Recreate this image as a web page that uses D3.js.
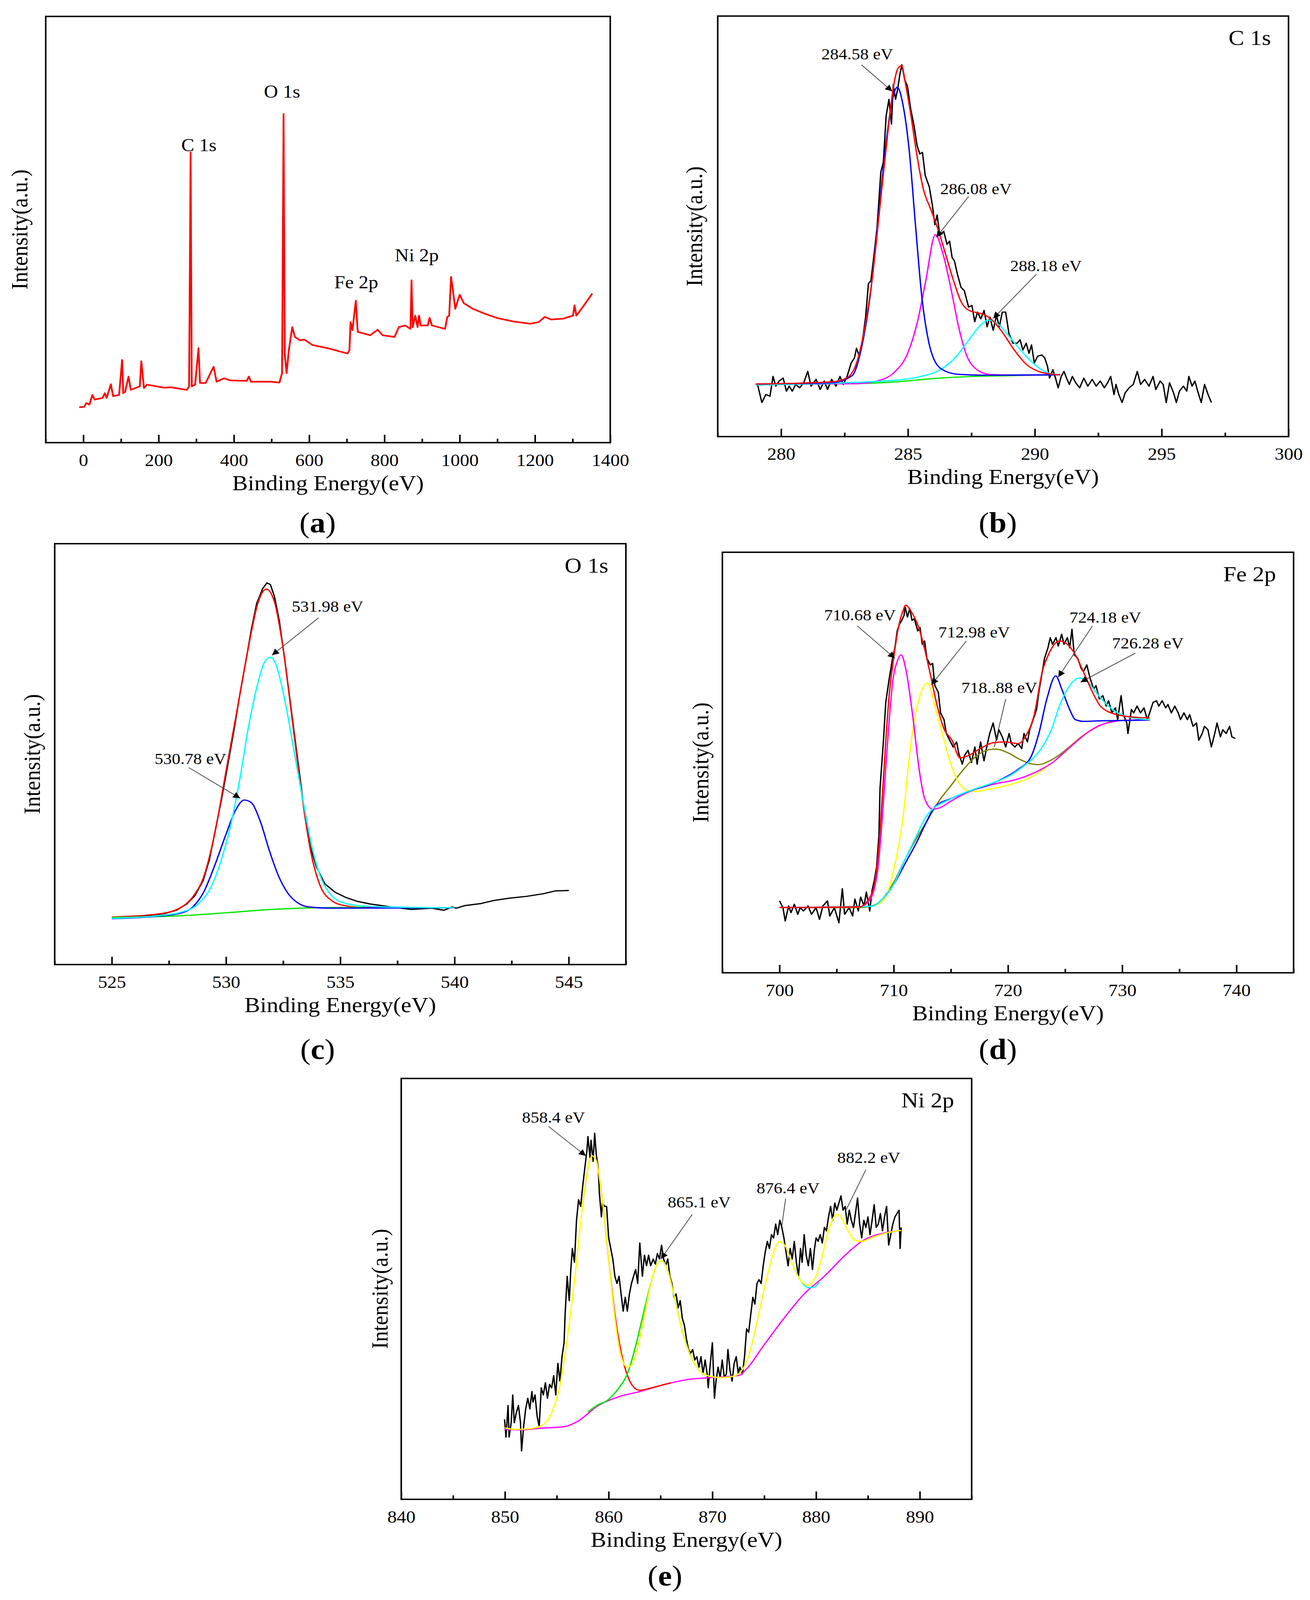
<!DOCTYPE html>
<html>
<head>
<meta charset="utf-8">
<script src="https://cdn.jsdelivr.net/npm/d3@7"></script>
<style>
html,body{margin:0;padding:0;background:#fff;overflow:hidden}
svg{display:block}
text{font-family:"Liberation Serif","Times New Roman",serif}
</style>
</head>
<body>
<div id="chart"></div>
<script>
// ---------- data: [binding energy (eV), intensity (% of frame height)] ----------

// (a) survey
var surveyLine = [[-11,8.3],[2,8.4],[8,9.3],[16,8.9],[24,11.2],[30,10.1],[51,10.5],[57,11.6],[62,10.5],[73,13.7],[79,10.9],[95,11.2],[103,19.4],[106,11.6],[111,11.9],[120,15.5],[126,12.4],[150,13.2],[154,19.1],[161,12.8],[169,13.6],[215,12.9],[232,13.0],[275,12.4],[281,13.2],[285,68.1],[288,13.2],[297,13.6],[306,22.2],[310,14.0],[325,14.0],[346,17.8],[354,14.3],[374,15.1],[390,14.6],[434,14.5],[440,15.5],[445,14.3],[499,14.3],[521,14.1],[528,16.3],[532,77.1],[535,20.9],[540,16.3],[546,21.7],[555,27.1],[562,24.8],[576,24.0],[587,24.2],[609,22.9],[652,22.1],[702,20.9],[707,21.7],[710,28.3],[715,26.4],[724,33.3],[729,26.0],[762,25.2],[782,26.5],[795,25.2],[827,24.8],[838,27.1],[855,27.5],[869,26.7],[872,38.1],[875,27.1],[882,29.8],[888,27.1],[892,29.8],[896,27.5],[915,27.5],[920,29.3],[926,27.5],[961,26.7],[967,29.5],[972,29.8],[977,38.9],[982,35.7],[988,31.4],[1000,34.7],[1011,32.7],[1035,31.4],[1068,30.2],[1101,29.2],[1144,28.4],[1188,27.9],[1210,28.3],[1226,29.5],[1243,28.9],[1275,29.1],[1301,29.8],[1305,32.2],[1310,29.8],[1330,32.2],[1350,34.7],[1352,35.0]];
var surveyPeaks = [["C 1s",307,68.4],["O 1s",528,80.9],["Fe 2p",725,36.2],["Ni 2p",886,42.5]];
var surveyTicks = [0,200,400,600,800,1000,1200,1400];
var surveyMinor = [-100,100,300,500,700,900,1100,1300];

// (b) C 1s
var c1sRaw = [[279.07,12.4],[279.24,8.1],[279.4,10.0],[279.56,9.6],[279.68,14.3],[279.79,12.0],[279.92,13.2],[280.08,13.9],[280.21,10.8],[280.32,12.0],[280.44,10.8],[280.57,12.4],[280.73,11.6],[280.89,12.8],[281.05,15.5],[281.18,12.0],[281.38,13.6],[281.54,11.2],[281.7,13.2],[281.83,11.2],[281.99,13.6],[282.16,12.0],[282.32,14.3],[282.45,12.4],[282.6,14.3],[282.76,17.5],[282.89,18.7],[282.97,21.0],[283.08,19.1],[283.21,23.0],[283.33,28.4],[283.44,36.3],[283.54,37.1],[283.65,42.6],[283.78,49.6],[283.93,62.9],[284.03,65.3],[284.14,76.3],[284.25,80.2],[284.35,74.3],[284.42,83.7],[284.51,80.2],[284.59,82.5],[284.68,86.1],[284.76,88.4],[284.87,84.9],[284.98,83.3],[285.11,77.8],[285.24,73.9],[285.36,69.2],[285.47,67.2],[285.57,67.6],[285.68,62.1],[285.84,59.4],[285.96,55.1],[286.06,50.4],[286.15,52.7],[286.25,48.0],[286.41,48.8],[286.54,45.7],[286.64,46.5],[286.74,42.6],[286.83,41.8],[286.95,38.6],[287.09,35.5],[287.22,34.7],[287.39,30.8],[287.52,31.2],[287.63,27.3],[287.74,29.6],[287.87,28.0],[288.0,30.0],[288.12,26.1],[288.23,28.4],[288.36,25.3],[288.49,28.8],[288.6,26.1],[288.72,29.6],[288.85,29.6],[288.98,24.5],[289.14,22.2],[289.3,22.2],[289.42,23.0],[289.53,20.6],[289.66,22.2],[289.77,19.8],[289.87,21.8],[289.98,17.5],[290.11,19.1],[290.28,19.4],[290.39,18.7],[290.5,16.7],[290.58,13.9],[290.71,15.9],[290.83,13.6],[290.92,11.6],[291.04,14.3],[291.15,15.5],[291.25,13.9],[291.36,12.4],[291.48,14.3],[291.61,12.8],[291.77,11.6],[291.93,13.9],[292.09,12.0],[292.26,13.6],[292.42,12.0],[292.58,13.2],[292.74,11.6],[292.87,12.8],[292.99,14.3],[293.12,10.0],[293.2,12.4],[293.31,10.0],[293.44,8.1],[293.56,10.4],[293.72,11.6],[293.88,12.4],[294.04,15.5],[294.17,12.4],[294.33,13.6],[294.5,12.0],[294.66,14.3],[294.77,11.2],[294.94,13.2],[295.06,12.4],[295.18,8.1],[295.31,12.8],[295.47,10.4],[295.58,8.1],[295.7,10.8],[295.86,12.0],[295.99,10.8],[296.07,14.3],[296.2,12.0],[296.31,13.2],[296.44,10.4],[296.56,8.1],[296.69,12.4],[296.83,10.0],[296.96,8.1]];
var c1sBase = [[279,12.4],[283,12.6],[284.5,13.0],[286,13.8],[287.5,14.3],[289,14.5],[291,14.7]];
var c1sPeakA = [[279,12.5],[282,12.8],[282.8,14.5],[283.2,22],[283.5,33],[283.8,50],[284.1,68],[284.35,79],[284.58,83.1],[284.8,79],[285.05,68],[285.3,50],[285.55,33],[285.8,23],[286.1,17.5],[286.5,15.5],[287,14.8],[288,14.6],[291,14.7]];
var c1sPeakB = [[279,12.4],[283,12.6],[284,13.6],[284.5,15.5],[285,20],[285.4,28],[285.7,37],[286.08,48],[286.4,43],[286.7,35],[287,26],[287.3,19.5],[287.7,16],[288.2,14.8],[289,14.6],[291,14.7]];
var c1sPeakC = [[279,12.3],[284,13.2],[285.5,14.3],[286.3,16],[286.9,19],[287.4,23],[287.9,26.7],[288.18,27.7],[288.6,26.5],[289.1,23],[289.6,19.5],[290.1,16.6],[290.6,15],[291,14.7]];
var c1sSum = [[279,12.5],[282,13.0],[282.6,14],[283,18],[283.3,26],[283.6,38],[283.9,55],[284.2,72],[284.45,84],[284.6,87.5],[284.75,88.2],[284.9,84],[285.1,77],[285.35,67],[285.6,59],[285.9,54],[286.2,49],[286.5,43],[286.8,37],[287.1,32],[287.4,30],[287.7,29.5],[288.0,29],[288.3,27.8],[288.7,25],[289.2,20.5],[289.7,17],[290.2,15.4],[290.6,14.9],[291,14.7]];
var c1sNotes = [["284.58 eV",283.0,89.7,283.17,88.4,284.38,82.1,true],["286.08 eV",287.68,57.7,287.39,57.1,286.12,47.4,true],["288.18 eV",290.44,39.4,290.06,38.6,288.36,28.1,true]];
var c1sTicks = [280,285,290,295,300];
var c1sMinor = [277.5,282.5,287.5,292.5,297.5];

// (c) O 1s
var o1sRaw = [[525.09,11.1],[525.49,11.1],[526.39,11.5],[527.29,12.1],[527.83,12.9],[528.28,14.4],[528.64,16.4],[529.0,20.0],[529.27,24.9],[529.54,32.2],[529.81,39.5],[530.08,47.6],[530.35,55.8],[530.62,64.7],[530.89,72.8],[531.11,79.7],[531.34,85.8],[531.61,89.4],[531.79,90.7],[531.94,90.3],[532.12,87.4],[532.33,81.7],[532.6,71.2],[532.87,59.8],[533.14,48.5],[533.41,37.1],[533.68,28.2],[533.95,23.3],[534.32,19.2],[534.77,17.2],[535.22,16.0],[535.76,15.0],[536.3,14.4],[537.2,13.7],[538.1,13.1],[539.0,13.4],[539.54,12.9],[539.9,13.7],[540.08,13.4],[540.44,14.0],[541.16,14.5],[541.7,15.2],[542.42,15.8],[543.14,16.2],[543.86,16.8],[544.41,17.5],[545.0,17.6]];
var o1sBase = [[525,11.2],[528,11.6],[530,12.3],[532,13.1],[534,13.5],[536,13.6]];
var o1sPeakA = [[525,10.9],[527,11.5],[528,12.2],[528.6,14],[529,17],[529.5,23.5],[530,31],[530.4,36.5],[530.8,39.1],[531.1,38.5],[531.5,34],[531.9,27],[532.3,21],[532.7,17],[533.1,14.8],[533.6,13.7],[534.5,13.4],[540,13.5]];
var o1sPeakB = [[525,11.0],[527,11.6],[528,12.4],[528.8,14.5],[529.3,18],[529.8,25],[530.2,33],[530.6,44],[531,57],[531.4,67],[531.7,72],[531.96,73],[532.2,71],[532.6,62],[533,50],[533.4,38],[533.8,27],[534.2,20],[534.6,16.5],[535.2,14.6],[536,13.9],[538,13.6],[540,13.5]];
var o1sSum = [[525,11.3],[527,12],[528,13.5],[528.6,16.5],[529,20.5],[529.5,31],[530,46],[530.5,61],[531,76],[531.4,86],[531.76,89.2],[532.1,86.5],[532.5,75],[532.9,58],[533.3,41],[533.7,27],[534.1,19],[534.6,15.3],[535.2,14],[536,13.6],[540,13.5]];
var o1sNotes = [["531.98 eV",534.44,83.8,534.05,82.4,532.01,73.5,true],["530.78 eV",528.44,47.6,528.37,46.8,530.62,39.5,true]];
var o1sTicks = [525,530,535,540,545];
var o1sMinor = [522.5,527.5,532.5,537.5,542.5,547.5];

// (d) Fe 2p
var fe2pRaw = [[700.0,17.1],[700.3,15.5],[700.5,12.3],[700.8,15.9],[701.0,14.3],[701.3,16.3],[701.6,13.9],[701.8,15.5],[702.1,14.7],[702.5,15.9],[702.8,13.9],[703.2,15.5],[703.5,12.7],[703.8,15.9],[704.2,17.1],[704.4,13.5],[704.8,15.5],[705.2,11.9],[705.5,20.0],[705.7,13.9],[706.1,15.5],[706.4,13.5],[706.6,17.5],[706.9,14.7],[707.1,18.0],[707.4,15.9],[707.6,19.2],[707.9,14.7],[708.1,19.6],[708.3,22.0],[708.5,25.3],[708.7,32.6],[708.8,43.9],[709.1,55.3],[709.3,64.3],[709.6,69.9],[709.9,74.8],[710.1,77.3],[710.3,81.3],[710.5,82.9],[710.7,83.8],[710.9,85.0],[711.0,87.0],[711.2,84.6],[711.4,86.6],[711.6,83.8],[711.8,84.2],[712.1,81.3],[712.3,82.1],[712.5,78.1],[712.7,78.9],[712.9,74.8],[713.2,73.2],[713.4,73.6],[713.6,68.3],[713.9,66.7],[714.1,61.8],[714.4,60.2],[714.6,56.9],[714.9,55.3],[715.2,53.7],[715.5,54.9],[715.7,52.1],[716.0,49.6],[716.2,51.7],[716.5,52.9],[716.8,50.0],[717.1,53.7],[717.3,49.6],[717.6,54.9],[717.9,50.4],[718.2,54.5],[718.4,56.9],[718.7,59.4],[719.0,55.3],[719.2,57.8],[719.5,56.1],[719.8,53.7],[720.1,56.9],[720.3,54.5],[720.6,53.7],[720.9,54.5],[721.2,53.3],[721.4,56.9],[721.7,54.9],[721.9,57.8],[722.2,60.2],[722.5,62.6],[722.7,66.7],[723.0,71.6],[723.2,74.8],[723.5,77.3],[723.7,79.7],[723.9,78.1],[724.2,79.7],[724.4,77.7],[724.7,80.5],[724.9,78.1],[725.2,79.7],[725.4,77.3],[725.6,81.7],[725.8,75.6],[726.1,74.8],[726.4,72.4],[726.6,71.6],[726.9,73.2],[727.2,69.9],[727.5,67.5],[727.7,68.3],[728.0,65.1],[728.3,65.9],[728.6,63.4],[728.8,64.7],[729.1,61.8],[729.4,63.0],[729.6,60.2],[729.9,65.9],[730.1,61.4],[730.4,59.4],[730.5,56.9],[730.8,62.6],[731.0,61.8],[731.3,63.4],[731.6,61.8],[731.9,63.0],[732.2,60.2],[732.4,61.8],[732.7,64.3],[733.0,64.7],[733.2,63.4],[733.5,64.7],[733.8,63.0],[734.0,63.8],[734.3,61.8],[734.6,63.4],[734.9,61.8],[735.1,60.2],[735.4,61.8],[735.7,60.2],[735.9,61.4],[736.2,58.6],[736.5,59.4],[736.7,55.3],[737.0,56.9],[737.2,58.6],[737.5,57.8],[737.8,53.7],[738.1,56.9],[738.3,59.4],[738.6,56.1],[738.8,57.8],[739.1,56.9],[739.4,58.6],[739.6,56.1],[739.9,55.7]];
var fe2pSat = [[700,15.5],[707,15.5],[708,15.8],[709,17.5],[710,21.5],[711,27],[712,32],[713,36.5],[714,41],[715,44.5],[716,48],[717,51],[718,52.8],[718.9,53.2],[720,52.3],[721,50.8],[722,49.7],[722.7,49.5],[723.5,50.2],[724.5,51.8],[725.5,54],[726.5,56.3],[727.5,58],[728.5,59.3],[729.5,59.9],[731,60.1],[732.4,60.2]];
var fe2pPeakA = [[700,15.5],[707,15.7],[707.8,17],[708.3,20],[708.6,24.5],[709,37],[709.3,48.8],[709.6,60],[709.9,69],[710.3,74],[710.65,75.6],[711.1,71.6],[711.7,60.2],[712.2,48.8],[712.7,41.5],[713.4,38.9],[714,39.2],[715,40.8],[716,42.3],[717,43.5],[718,44.3],[719,45],[720,45.5],[721,46.2],[722,47.2],[723,48.5],[724,50.2],[725,52.6],[726,55],[727,57.2],[728,58.8],[729,59.6],[730,60],[732.4,60.2]];
var fe2pPeakB = [[700,15.5],[708,15.8],[708.6,16.3],[709.3,18],[710,24.5],[710.8,36.6],[711.5,54.5],[712.2,65],[712.98,68.9],[713.6,63.4],[714.4,55.3],[715.1,48.8],[715.8,44.8],[716.5,43.3],[717.3,43.1],[718,43.5],[719,44],[720,44.6],[721,45.4],[722,46.5],[723,48.2],[724,50.2],[725,52.5],[726,55],[727,57.2],[728,58.8],[729,59.6],[730,60],[732.4,60.2]];
var fe2pPeakC = [[700,15.5],[708,15.8],[709,17.5],[710,21],[711,26],[712,31],[712.8,35.5],[713.6,39.5],[715.1,41.5],[716.5,43.1],[718,44.4],[719.4,46],[720.9,48.4],[722,51.3],[722.7,56.9],[723.4,65.1],[724.18,70.6],[724.7,67.5],[725.4,62.6],[725.9,60.2],[726.6,59.8],[728,59.9],[732.4,60.1]];
var fe2pPeakD = [[700,15.5],[708,15.8],[709,17.5],[710,21],[711,27],[711.8,31.5],[712.9,37.4],[715.1,41.5],[716.9,43.5],[718.7,45.2],[720.1,46.8],[721.2,48.8],[722.3,51.3],[723,53.7],[723.8,57.8],[724.5,63.4],[725.4,68.3],[726.28,70.1],[727,69.1],[727.7,66.7],[728.8,63.4],[729.9,61.4],[731,60.6],[732.4,60.2]];
var fe2pSum = [[700,15.5],[707,15.7],[707.8,17.5],[708.3,21],[708.7,30],[709,42],[709.3,55],[709.6,66],[710,75],[710.4,82],[710.8,86],[711.05,87.4],[711.5,86],[712.2,82],[712.7,77],[713.2,71],[713.8,63.5],[714.4,58],[715.1,55.3],[715.8,51.1],[716.5,51.6],[717.5,53.2],[718.7,54.7],[719.8,54.9],[720.9,54.5],[721.6,56.5],[722.3,61.4],[723,71.6],[723.6,76],[724.5,78.9],[725,78.5],[725.9,75.6],[726.6,71.6],[727.4,66.7],[728.1,63.4],[729.5,61.4],[731,60.8],[732.4,60.6]];
var fe2pNotes = [["710.68 eV",707.04,83.8,706.8,82.5,710.1,74.8,true],["712.98 eV",717.04,79.7,716.35,78.9,713.3,68.5,true],["718..88 eV",719.24,66.5,719.8,65.1,718.8,53.7,false],["724.18 eV",728.52,83.3,727.4,82.5,724.4,70.3,true],["726.28 eV",732.24,77.1,731.15,76.0,726.35,69.1,true]];
var fe2pTicks = [700,710,720,730,740];
var fe2pMinor = [695,705,715,725,735,745];

// (e) Ni 2p
var ni2pRaw = [[849.96,19.0],[850.1,14.8],[850.3,22.3],[850.4,14.8],[850.6,18.2],[850.75,24.8],[850.9,18.2],[851.1,20.6],[851.3,22.3],[851.5,18.2],[851.6,11.5],[851.8,17.3],[852.0,21.5],[852.2,24.0],[852.4,21.5],[852.6,25.6],[852.7,23.1],[852.9,24.8],[853.1,19.8],[853.3,17.3],[853.5,26.5],[853.7,24.8],[853.9,27.7],[854.1,24.0],[854.3,27.3],[854.5,26.5],[854.7,29.4],[854.9,24.8],[855.1,32.3],[855.3,28.1],[855.5,33.9],[855.7,37.2],[855.8,43.9],[856.0,53.0],[856.2,47.2],[856.35,54.6],[856.5,59.6],[856.7,56.3],[856.9,66.3],[857.1,71.2],[857.3,69.6],[857.5,74.5],[857.7,78.7],[857.9,82.8],[858.0,86.2],[858.2,81.2],[858.3,85.3],[858.5,80.3],[858.65,87.0],[858.8,82.0],[859.0,78.7],[859.1,72.9],[859.3,67.1],[859.4,70.4],[859.6,69.6],[859.8,69.6],[860.0,62.1],[860.2,59.6],[860.4,57.1],[860.6,53.0],[860.8,51.3],[861.0,53.0],[861.2,48.8],[861.4,44.7],[861.6,48.0],[861.8,44.7],[862.0,48.8],[862.2,51.3],[862.4,53.0],[862.6,54.6],[862.8,51.3],[863.0,60.9],[863.25,53.0],[863.45,58.0],[863.65,55.5],[863.85,58.0],[864.05,55.5],[864.3,57.1],[864.5,55.9],[864.7,58.4],[864.9,57.1],[865.1,60.4],[865.3,57.1],[865.5,55.5],[865.7,57.1],[865.9,53.0],[866.1,51.3],[866.3,48.0],[866.5,48.8],[866.7,45.5],[866.9,47.2],[867.1,43.0],[867.3,41.4],[867.5,38.1],[867.7,35.6],[867.9,34.7],[868.1,35.6],[868.3,33.1],[868.5,33.9],[868.7,31.4],[868.9,33.9],[869.1,29.8],[869.3,33.1],[869.5,29.8],[869.6,26.5],[869.8,32.3],[870.0,37.2],[870.2,24.0],[870.35,28.1],[870.55,31.4],[870.75,28.9],[870.95,33.1],[871.15,28.9],[871.35,29.8],[871.5,35.6],[871.7,30.6],[871.9,28.1],[872.1,32.3],[872.3,33.9],[872.5,29.8],[872.65,31.4],[872.9,29.8],[873.1,33.9],[873.3,40.5],[873.5,39.7],[873.7,43.9],[873.9,48.0],[874.1,46.4],[874.3,51.3],[874.5,52.2],[874.7,51.3],[874.9,55.5],[875.1,58.8],[875.3,61.3],[875.5,59.6],[875.7,62.9],[875.9,62.1],[876.1,65.4],[876.3,62.9],[876.5,66.3],[876.7,64.6],[876.9,62.1],[877.1,58.8],[877.3,55.5],[877.5,59.6],[877.7,57.1],[877.9,61.3],[878.1,56.3],[878.3,53.0],[878.5,59.6],[878.65,56.3],[878.85,62.9],[879.05,58.0],[879.25,55.5],[879.45,59.6],[879.65,54.6],[879.85,59.6],[880.0,62.1],[880.2,61.3],[880.4,62.9],[880.6,60.9],[880.8,64.6],[881.0,63.8],[881.2,67.1],[881.4,69.6],[881.6,66.3],[881.8,70.4],[882.0,68.7],[882.2,70.4],[882.4,72.1],[882.6,68.7],[882.8,69.6],[883.0,65.4],[883.2,68.7],[883.4,66.3],[883.6,64.6],[883.8,68.0],[884.0,71.6],[884.2,65.4],[884.4,62.1],[884.6,66.3],[884.8,64.6],[885.0,67.1],[885.2,62.9],[885.4,66.3],[885.6,70.0],[885.8,64.6],[886.0,65.4],[886.2,67.9],[886.4,63.8],[886.6,67.1],[886.8,69.6],[887.0,60.4],[887.2,62.9],[887.4,65.4],[887.6,67.1],[887.8,67.9],[888.0,68.7],[888.1,59.6],[888.2,64.6]];
var ni2pBase = [[850,16.6],[851.5,16.5],[853.5,16.9],[855.8,17.3],[857,18.5],[859,22.3],[861,24.4],[863,25.6],[865.4,27.3],[867.7,28.5],[869.7,28.9],[872.5,29.4],[873.3,31],[874.9,36.4],[876.9,43],[878.85,48.8],[880.8,53],[882.8,58],[884.4,61.3],[886.8,63.4],[888.2,63.9]];
var ni2pPeakA = [[857.5,70],[858,78.5],[858.4,81.6],[858.8,80.5],[859.3,73],[860,57],[860.6,44],[861.2,35],[861.8,29.5],[862.3,27],[863,25.9],[864,26.4],[865.4,27.3],[866,27.7]];
var ni2pPeakB = [[858,20.8],[859,22.5],[859.8,23.4],[860.5,25],[861,26.5],[861.8,29.8],[862.6,36.4],[863.4,44.7],[864.2,52.5],[864.7,56],[865.1,56.7],[865.6,55],[866.3,48.5],[867.1,40],[868,33.5],[868.8,30.5],[869.8,29.2]];
var ni2pPeakC = [[877.7,56],[878.5,52],[879.25,50.3],[879.8,50.4],[880.3,51.6]];
var ni2pSum = [[850,17],[851,16.6],[852.5,16.8],[853.5,17.5],[854.5,20.5],[855.3,27],[856,38],[856.8,54],[857.5,70],[858,78.5],[858.4,81.6],[858.8,80.5],[859.3,73],[860,57],[860.6,43],[861.2,34],[861.8,31.4],[862.3,32.2],[862.8,36],[863.5,44.5],[864.2,52.5],[864.7,56],[865.1,56.7],[865.6,55],[866.3,48.5],[867.1,40],[868,33.5],[868.8,30.5],[869.8,29.2],[870.9,28.9],[872,29.2],[872.8,30.5],[873.5,34],[874.2,41],[875,50],[875.7,57],[876.2,60.5],[876.5,61.3],[877,60.3],[877.7,56],[878.5,52],[879.25,50.9],[879.9,52.5],[880.5,57],[881.1,63],[881.7,67],[882.1,67.7],[882.6,66.3],[883.2,63.2],[883.8,61.5],[884.4,61.3],[885.5,62.3],[886.8,63.3],[888.2,63.9]];
var ni2pNotes = [["858.4 eV",854.68,89.5,854.2,88.6,857.8,81.6,true],["865.1 eV",868.73,69.4,868.06,67.7,865.04,57.1,true],["876.4 eV",877.3,72.7,877.06,71.4,876.7,65.0,false],["882.2 eV",885.08,79.9,884.8,78.3,882.8,68.3,false]];
var ni2pTicks = [840,850,860,870,880,890];
var ni2pMinor = [845,855,865,875,885,895];

// ---------- drawing ----------

// the figure is laid out on a 3353 x 4482 sheet, then fitted to the visible window
var vw = window.innerWidth || 3353,
	vh = window.innerHeight || 4482;

var svg = d3.select('#chart').append('svg')
	.attr('width', vw)
	.attr('height', vh)
	.attr('viewBox', '0 0 3353 4482')
	.attr('preserveAspectRatio', 'none');

svg.append('defs').append('marker')
	.attr('id', 'head')
	.attr('viewBox', '0 0 10 10')
	.attr('refX', 10).attr('refY', 5)
	.attr('markerUnits', 'userSpaceOnUse')
	.attr('markerWidth', 26).attr('markerHeight', 18)
	.attr('orient', 'auto')
	.append('path').attr('d', 'M0,0L10,5L0,10z').attr('fill', '#000');

function drawPanel(p){

	var x = d3.scaleLinear().domain(p.domain).range([p.left, p.right]),
		y = d3.scaleLinear().domain([0,100]).range([p.bottom, p.top]);

	var g = svg.append('g');

	p.series.forEach(function(s){
		g.append('path')
			.datum(s.data)
			.attr('d', d3.line()
				.x(function(d){return x(d[0]);})
				.y(function(d){return y(d[1]);})
				.curve(s.smooth ? d3.curveMonotoneX : d3.curveLinear))
			.attr('fill', 'none')
			.attr('stroke', s.color)
			.attr('stroke-width', s.w || 3.5)
			.attr('stroke-linejoin', 'round');
	});

	// annotations: label, text x, text y, line from, line to, arrow head
	(p.notes || []).forEach(function(n){
		g.append('line')
			.attr('x1', x(n[3])).attr('y1', y(n[4]))
			.attr('x2', x(n[5])).attr('y2', y(n[6]))
			.attr('stroke', '#444')
			.attr('stroke-width', 2)
			.attr('marker-end', n[7] ? 'url(#head)' : null);
		g.append('text')
			.attr('x', x(n[1])).attr('y', y(n[2]))
			.attr('text-anchor', 'middle')
			.attr('font-size', 44)
			.text(n[0]);
	});

	(p.peaks || []).forEach(function(n){
		g.append('text')
			.attr('x', x(n[1])).attr('y', y(n[2]))
			.attr('text-anchor', 'middle')
			.attr('font-size', 50)
			.text(n[0]);
	});

	var ax = g.append('g')
		.attr('transform', 'translate(0,' + p.bottom + ')')
		.call(d3.axisBottom(x).tickValues(p.ticks).tickSize(-22).tickPadding(31).tickFormat(d3.format('d')));
	ax.select('.domain').remove();
	ax.attr('font-size', 48).attr('font-family', '"Liberation Serif", serif');
	ax.selectAll('line').attr('stroke-width', 4);
	ax.selectAll('text').attr('fill', '#000');

	var mx = g.append('g')
		.attr('transform', 'translate(0,' + p.bottom + ')')
		.call(d3.axisBottom(x).tickValues(p.minor).tickSize(-11).tickFormat(''));
	mx.select('.domain').remove();
	mx.selectAll('line').attr('stroke-width', 4);

	g.append('rect')
		.attr('x', p.left).attr('y', p.top)
		.attr('width', p.right - p.left).attr('height', p.bottom - p.top)
		.attr('fill', 'none').attr('stroke', '#000').attr('stroke-width', 4);

	if (p.title) {
		g.append('text')
			.attr('x', p.right - 45).attr('y', p.top + 81)
			.attr('text-anchor', 'end')
			.attr('font-size', 60)
			.text(p.title);
	}

	g.append('text')
		.attr('x', (p.left + p.right)/2).attr('y', p.bottom + 133)
		.attr('text-anchor', 'middle')
		.attr('font-size', 60)
		.text('Binding Energy(eV)');

	g.append('text')
		.attr('transform', 'translate(' + (p.left - p.yOff) + ',' + (p.top + p.bottom)/2 + ') rotate(-90)')
		.attr('text-anchor', 'middle')
		.attr('font-size', 60)
		.text('Intensity(a.u.)');

	var lab = g.append('text')
		.attr('x', p.labX).attr('y', p.labY)
		.attr('text-anchor', 'middle')
		.attr('font-size', 80);
	lab.append('tspan').text('(');
	lab.append('tspan').attr('font-weight', 'bold').text(p.letter);
	lab.append('tspan').text(')');
}

drawPanel({
	left:117, right:1562, top:46, bottom:1240, yOff:47,
	domain:[-100,1400], ticks:surveyTicks, minor:surveyMinor,
	series:[{data:surveyLine, color:'#ff0000', w:4.5}],
	peaks:surveyPeaks, letter:'a', labX:813, labY:1491
});

drawPanel({
	left:1837, right:3298, top:45, bottom:1223, yOff:40,
	domain:[277.5,300], ticks:c1sTicks, minor:c1sMinor, title:'C 1s',
	series:[
		{data:c1sRaw, color:'#000'},
		{data:c1sBase, color:'#00e600', smooth:true},
		{data:c1sPeakB, color:'#ff00ff', smooth:true},
		{data:c1sPeakC, color:'#00ffff', smooth:true},
		{data:c1sPeakA, color:'#0000ff', smooth:true},
		{data:c1sSum, color:'#ff0000', smooth:true}
	],
	notes:c1sNotes, letter:'b', labX:2554, labY:1491
});

drawPanel({
	left:140, right:1602, top:1523, bottom:2702, yOff:38,
	domain:[522.5,547.5], ticks:o1sTicks, minor:o1sMinor, title:'O 1s',
	series:[
		{data:o1sRaw, color:'#000'},
		{data:o1sSum, color:'#ff0000', smooth:true},
		{data:o1sBase, color:'#00e600', smooth:true},
		{data:o1sPeakA, color:'#0000ff', smooth:true},
		{data:o1sPeakB, color:'#00ffff', smooth:true}
	],
	notes:o1sNotes, letter:'c', labX:813, labY:2967
});

drawPanel({
	left:1849, right:3311, top:1547, bottom:2725, yOff:36,
	domain:[695,745], ticks:fe2pTicks, minor:fe2pMinor, title:'Fe 2p',
	series:[
		{data:fe2pRaw, color:'#000'},
		{data:fe2pSat, color:'#808000', smooth:true},
		{data:fe2pPeakB, color:'#ffff00', smooth:true},
		{data:fe2pPeakA, color:'#ff00ff', smooth:true},
		{data:fe2pPeakC, color:'#0000ff', smooth:true},
		{data:fe2pPeakD, color:'#00ffff', smooth:true},
		{data:fe2pSum, color:'#ff0000', smooth:true}
	],
	notes:fe2pNotes, letter:'d', labX:2554, labY:2967
});

drawPanel({
	left:1027, right:2487, top:3021, bottom:4200, yOff:35,
	domain:[840,895], ticks:ni2pTicks, minor:ni2pMinor, title:'Ni 2p',
	series:[
		{data:ni2pRaw, color:'#000'},
		{data:ni2pBase, color:'#ff00ff', smooth:true},
		{data:ni2pPeakA, color:'#ff0000', smooth:true},
		{data:ni2pPeakB, color:'#00e600', smooth:true},
		{data:ni2pPeakC, color:'#00ffff', smooth:true},
		{data:ni2pSum, color:'#ffff00', smooth:true}
	],
	notes:ni2pNotes, letter:'e', labX:1702, labY:4442
});
</script>
</body>
</html>
